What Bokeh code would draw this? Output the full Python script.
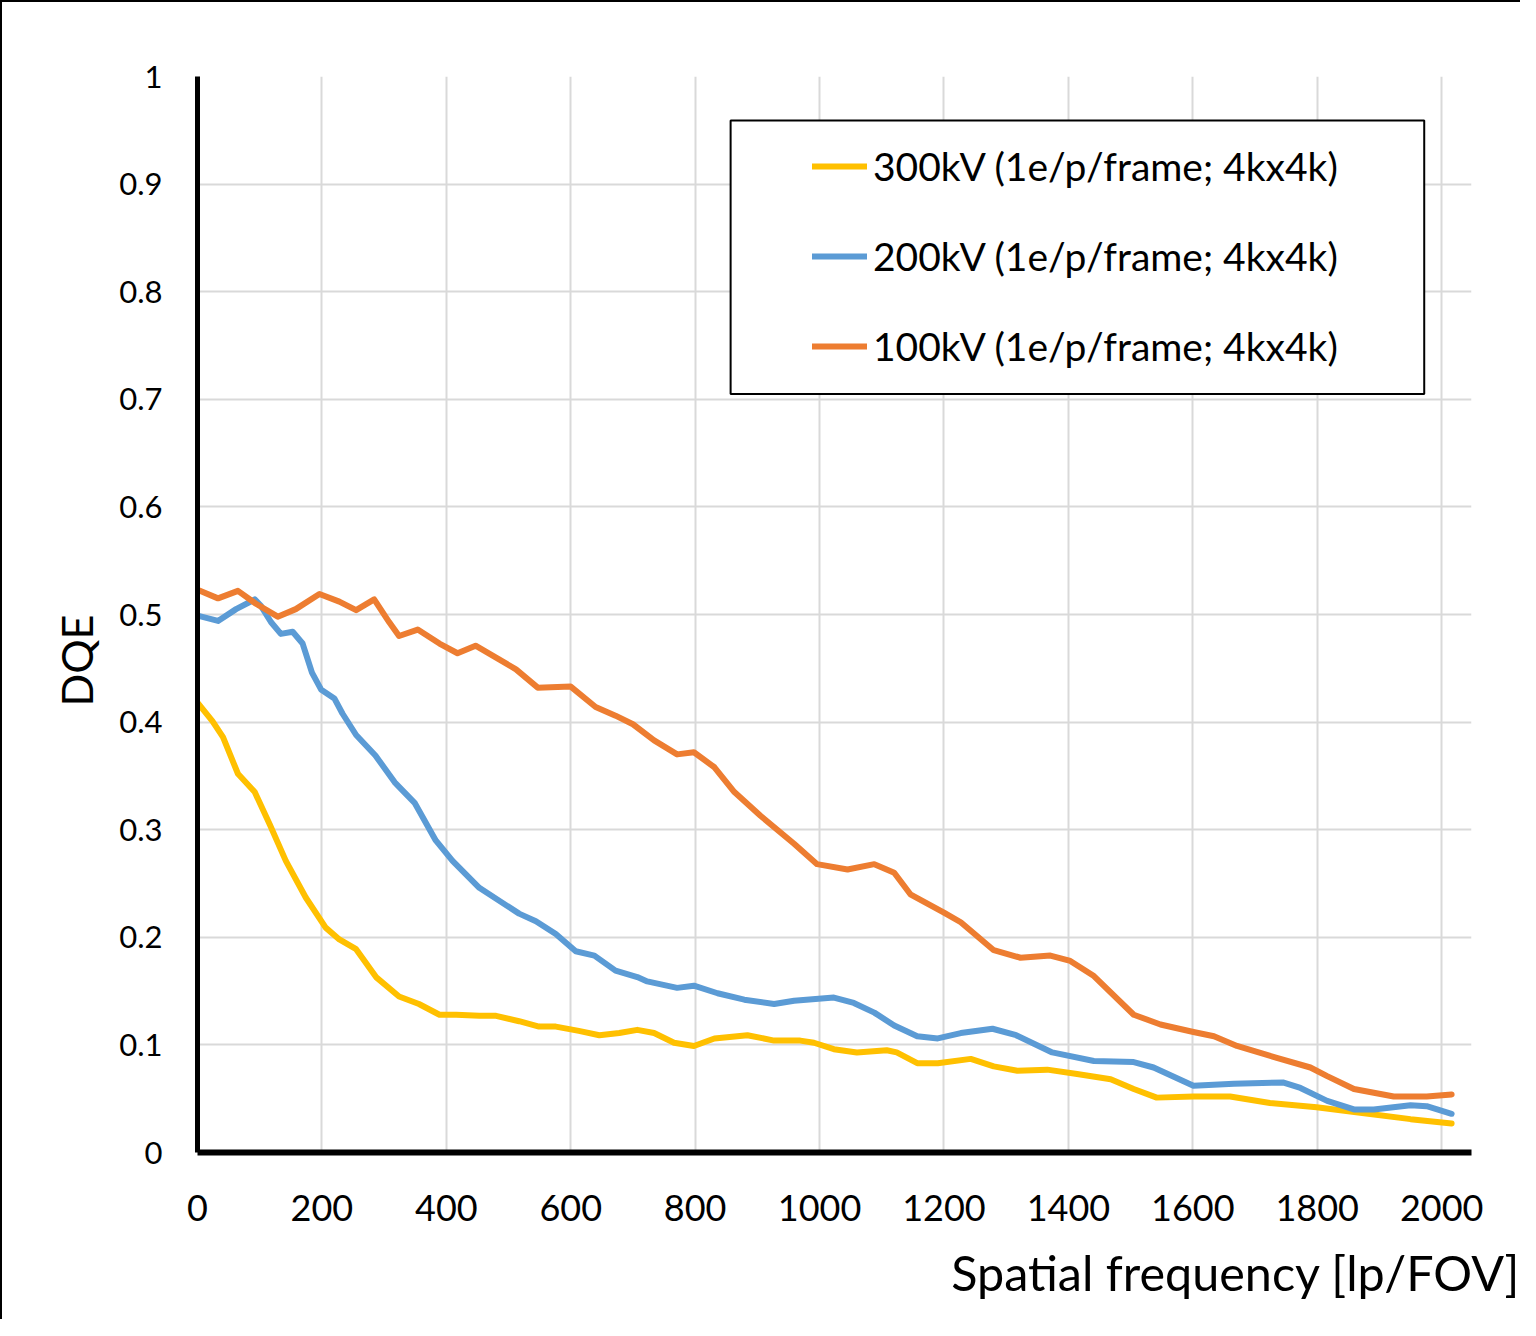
from bokeh.plotting import figure
from bokeh.models import (Range1d, FixedTicker, NumeralTickFormatter, Legend,
                          LegendItem, BoxAnnotation, Title)
from bokeh.embed import file_html
from bokeh.resources import INLINE

# ---------------- data ----------------
x_300 = [0, 24, 41, 65, 92, 116, 142, 174, 206, 228, 255, 287, 324, 356, 389, 416,
         453, 480, 517, 549, 576, 613, 646, 678, 707, 734, 766, 798, 831, 884, 927,
         969, 991, 1023, 1060, 1108, 1124, 1157, 1190, 1243, 1280, 1318, 1366, 1414,
         1468, 1505, 1542, 1601, 1660, 1724, 1799, 1869, 1950, 2016]
y_300 = [0.418, 0.401, 0.386, 0.352, 0.335, 0.305, 0.271, 0.237, 0.209, 0.198, 0.189,
         0.163, 0.145, 0.138, 0.128, 0.128, 0.127, 0.127, 0.122, 0.117, 0.117, 0.113,
         0.109, 0.111, 0.114, 0.111, 0.102, 0.099, 0.106, 0.109, 0.104, 0.104, 0.102,
         0.096, 0.093, 0.095, 0.093, 0.083, 0.083, 0.087, 0.080, 0.076, 0.077, 0.073,
         0.068, 0.059, 0.051, 0.052, 0.052, 0.046, 0.042, 0.037, 0.031, 0.027]

x_200 = [0, 33, 62, 92, 102, 118, 134, 153, 169, 184, 199, 220, 233, 255, 286, 317,
         349, 383, 410, 453, 517, 544, 576, 608, 638, 672, 707, 723, 771, 798, 836,
         879, 927, 959, 1023, 1055, 1088, 1120, 1157, 1190, 1227, 1278, 1316, 1374,
         1441, 1505, 1537, 1601, 1666, 1746, 1773, 1816, 1859, 1891, 1950, 1976, 2016]
y_200 = [0.499, 0.494, 0.505, 0.514, 0.508, 0.493, 0.482, 0.484, 0.473, 0.446, 0.430,
         0.422, 0.408, 0.388, 0.369, 0.344, 0.325, 0.290, 0.271, 0.246, 0.222, 0.215,
         0.203, 0.187, 0.183, 0.169, 0.163, 0.159, 0.153, 0.155, 0.148, 0.142, 0.138,
         0.141, 0.144, 0.139, 0.130, 0.118, 0.108, 0.106, 0.111, 0.115, 0.109, 0.093,
         0.085, 0.084, 0.079, 0.062, 0.064, 0.065, 0.060, 0.048, 0.040, 0.040, 0.044,
         0.043, 0.036]

x_100 = [0, 33, 65, 94, 129, 158, 196, 228, 255, 284, 308, 324, 354, 389, 418, 447,
         480, 512, 547, 600, 640, 672, 700, 734, 771, 798, 831, 863, 905, 959, 996,
         1045, 1088, 1120, 1146, 1200, 1227, 1280, 1323, 1371, 1403, 1441, 1505, 1548,
         1601, 1634, 1671, 1735, 1789, 1816, 1859, 1923, 1976, 2016]
y_100 = [0.523, 0.515, 0.522, 0.510, 0.498, 0.505, 0.519, 0.512, 0.504, 0.514, 0.493,
         0.480, 0.486, 0.473, 0.464, 0.471, 0.460, 0.449, 0.432, 0.433, 0.414, 0.406,
         0.398, 0.383, 0.370, 0.372, 0.358, 0.335, 0.313, 0.287, 0.268, 0.263, 0.268,
         0.260, 0.240, 0.223, 0.214, 0.188, 0.181, 0.183, 0.178, 0.164, 0.128, 0.119,
         0.112, 0.108, 0.099, 0.088, 0.079, 0.071, 0.059, 0.052, 0.052, 0.054]

series_labels = ["300kV (1e/p/frame; 4kx4k)", "200kV (1e/p/frame; 4kx4k)",
                 "100kV (1e/p/frame; 4kx4k)"]
series_colors = ["#FFC000", "#5B9BD5", "#ED7D31"]

x_ticks = [0, 200, 400, 600, 800, 1000, 1200, 1400, 1600, 1800, 2000]
y_ticks = [0, 0.1, 0.2, 0.3, 0.4, 0.5, 0.6, 0.7, 0.8, 0.9, 1.0]
x_title = "Spatial frequency [lp/FOV]"
y_title = "DQE"

FONT = "Lato"

# ---------------- figure ----------------
p = figure(width=1520, height=1319, x_range=Range1d(0, 2048), y_range=Range1d(0, 1),
           output_backend="svg", toolbar_location=None,
           min_border_left=195, min_border_right=51, min_border_top=74,
           min_border_bottom=169)
p.styles = {"border-left": "2px solid #000", "border-top": "2px solid #000"}
p.outline_line_color = None
p.background_fill_color = "white"
p.border_fill_color = "white"

for ax in (p.xaxis[0], p.yaxis[0]):
    ax.axis_line_color = "black"
    ax.major_tick_line_color = None
    ax.minor_tick_line_color = None
    ax.major_tick_out = 0
    ax.major_tick_in = 0
    ax.major_label_text_font = FONT
    ax.major_label_text_color = "black"

p.xaxis.ticker = FixedTicker(ticks=x_ticks)
p.yaxis.ticker = FixedTicker(ticks=y_ticks)
p.yaxis.formatter = NumeralTickFormatter(format="0.[0]")
p.xaxis.axis_line_width = 6
p.yaxis.axis_line_width = 5
p.xaxis.major_label_text_font_size = "36px"
p.yaxis.major_label_text_font_size = "31px"
p.xaxis.major_label_standoff = 42
p.yaxis.major_label_standoff = 35

p.grid.grid_line_color = "#D9D9D9"
p.grid.grid_line_width = 2

renderers = []
for xs, ys, c in zip([x_300, x_200, x_100], [y_300, y_200, y_100], series_colors):
    r = p.line(xs, ys, line_color=c, line_width=6, line_join="round", line_cap="round")
    renderers.append(r)

# legend frame
box = BoxAnnotation(left=857, right=1972, bottom=0.705, top=0.959,
                    fill_color="white", fill_alpha=1.0,
                    line_color="black", line_alpha=1.0, line_width=2)
p.add_layout(box)

legend = Legend(items=[LegendItem(label=l, renderers=[r])
                       for l, r in zip(series_labels, renderers)],
                location=(615, 781), orientation="vertical")
legend.border_line_color = None
legend.background_fill_alpha = 0
legend.padding = 0
legend.margin = 0
legend.spacing = 40
legend.glyph_width = 55
legend.glyph_height = 50
legend.label_height = 50
legend.label_standoff = 6
legend.label_text_font = FONT
legend.label_text_font_size = "39px"
legend.label_text_color = "black"
p.add_layout(legend, "center")

xt = Title(text=x_title, align="right", offset=-49, text_font=FONT,
           text_font_size="48.5px", text_font_style="normal", text_color="black",
           standoff=34)
p.add_layout(xt, "below")
yt = Title(text=y_title, align="left", offset=446, text_font=FONT,
           text_font_size="43px", text_font_style="normal", text_color="black",
           standoff=30)
p.add_layout(yt, "left")

open("out.html", "w").write(file_html(p, INLINE))
